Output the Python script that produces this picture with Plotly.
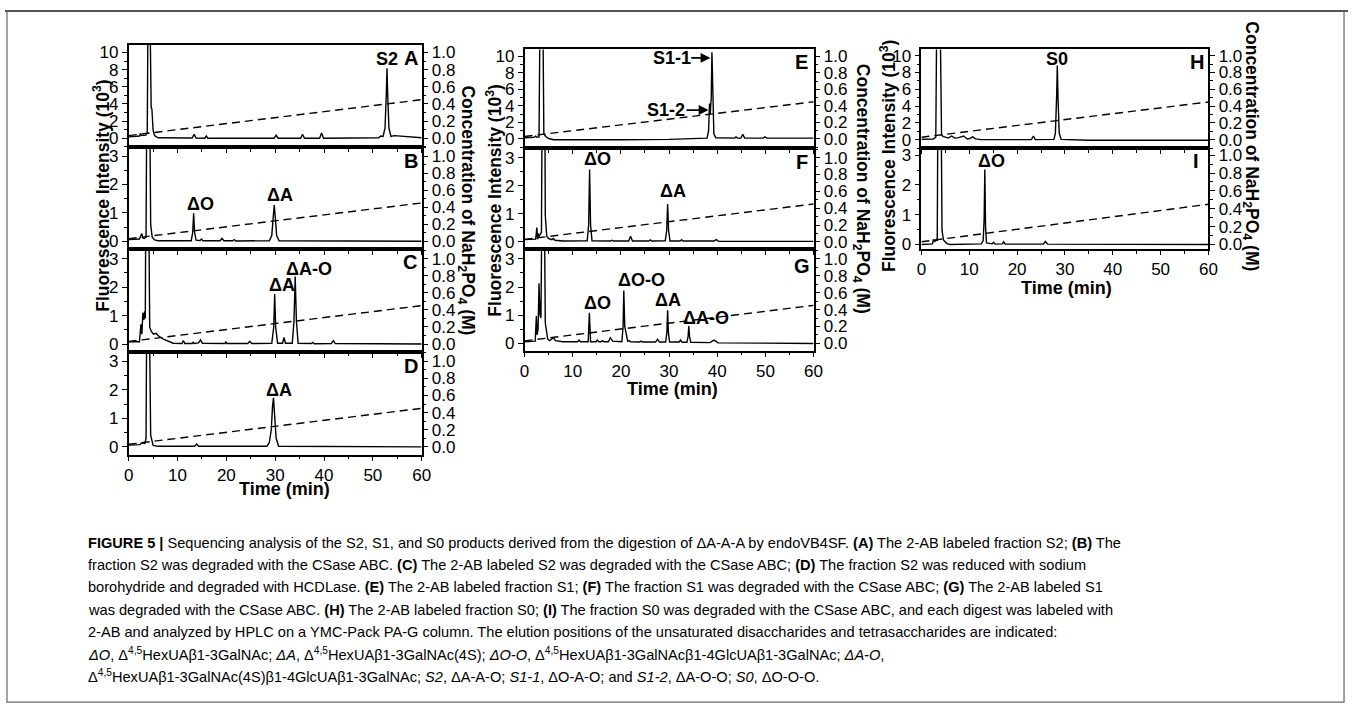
import plotly.graph_objects as go

# ------------------------------------------------------------------ data
x_ticks = [0, 10, 20, 30, 40, 50, 60]
grad_time = [0, 60]
grad_conc = [0.03, 0.45]

A_time = [0, 1.0, 2.2, 2.4, 2.6, 3.5, 3.8, 3.95, 4.35, 4.6, 4.75, 5.0, 5.3, 6.0, 13.0, 13.4, 13.8, 15.6, 15.9, 16.2,
          29.8, 30.2, 30.6, 35.2, 35.6, 36.0, 39.1, 39.5, 39.9, 51.2, 51.6, 52.1, 52.5, 52.75, 52.9, 53.05, 53.3,
          53.7, 54.4, 60]
A_signal = [0.15, 0.2, 0.25, 0.55, 0.3, 0.35, 0.6, 15, 15, 3.6, 3.4, 0.9, 0.3, 0.05, 0.02, 0.45, 0.02, 0.0, 0.25, 0.0,
            0.0, 0.35, 0.0, 0.0, 0.45, 0.0, 0.0, 0.6, 0.0, 0.05, 0.25, 0.2, 1.2, 5.0, 8.15, 5.0, 1.2,
            0.2, 0.3, 0.05]

B_time = [0, 2.2, 2.5, 2.7, 2.9, 3.2, 3.55, 3.7, 4.3, 4.5, 4.8, 5.3, 6, 12.8, 13.1, 13.3, 13.5, 13.8, 14.6, 14.9,
          15.2, 18.7, 19.1, 19.5, 21.3, 21.6, 21.9, 28.8, 29.3, 29.6, 29.8, 30.0, 30.3, 30.8, 60]
B_signal = [0.06, 0.08, 0.2, 0.27, 0.12, 0.1, 0.15, 5, 5, 0.6, 0.15, 0.05, 0.02, 0.02, 0.3, 0.99, 0.3, 0.04, 0.03, 0.08,
            0.02, 0.02, 0.1, 0.02, 0.02, 0.06, 0.01, 0.02, 0.2, 0.9, 1.28, 0.9, 0.2, 0.02, 0.0]

C_time = [0, 2.2, 2.5, 2.7, 2.9, 3.1, 3.25, 3.4, 3.5, 4.1, 4.3, 4.6, 5.1, 5.6, 6.0, 7.1, 9.1, 10.9, 11.2, 11.5, 13.0,
          13.2, 13.4, 14.3, 14.7, 15.1, 19.7, 19.9, 20.1, 24.4, 24.8, 25.2, 29.3, 29.7, 29.9, 30.1, 30.5, 31.5, 31.8,
          32.1, 33.5, 33.85, 34.1, 34.35, 34.7, 37.4, 37.7, 38.0, 41.5, 41.9, 42.3, 60]
C_signal = [0.08, 0.08, 0.69, 0.35, 1.1, 0.85, 1.15, 0.9, 5, 5, 0.6, 0.45, 0.35, 0.38, 0.3, 0.17, 0.03, 0.02, 0.12,
            0.02, 0.02, 0.06, 0.02, 0.04, 0.15, 0.03, 0.02, 0.07, 0.02, 0.02, 0.1, 0.02, 0.03, 0.6, 1.76, 0.6, 0.03,
            0.03, 0.23, 0.03, 0.03, 0.8, 2.37, 0.8, 0.03, 0.02, 0.06, 0.01, 0.02, 0.12, 0.02, 0.0]

D_time = [0, 2.3, 2.6, 3.0, 3.3, 3.55, 3.7, 4.2, 4.5, 5.0, 6.0, 13.5, 13.9, 14.3, 28.3, 28.8, 29.2, 29.45, 29.65,
          29.85, 30.2, 30.7, 60]
D_signal = [0.06, 0.08, 0.14, 0.14, 0.12, 0.3, 5, 5, 0.4, 0.05, 0.02, 0.02, 0.1, 0.02, 0.02, 0.15, 0.6, 1.4, 1.72,
            1.2, 0.3, 0.02, 0.0]

E_time = [0, 2.0, 2.3, 2.6, 3.0, 3.2, 3.8, 4.0, 4.4, 5.0, 6.0, 10, 20, 30, 36, 37.9, 38.2, 38.4, 38.55, 38.75, 38.9,
          39.05, 39.3, 39.7, 43.6, 43.9, 44.2, 44.9, 45.3, 45.7, 49.5, 49.9, 50.3, 60]
E_signal = [0.15, 0.2, 0.35, 0.2, 0.25, 15, 15, 0.6, 0.3, 0.05, -0.1, -0.12, -0.1, -0.05, 0.0, 0.1, 1.0, 4.3, 3.0,
            5.0, 10.5, 5.0, 0.6, 0.15, 0.1, 0.25, 0.1, 0.1, 0.55, 0.1, 0.1, 0.25, 0.1, 0.1]

F_time = [0, 2.3, 2.55, 2.7, 2.85, 3.0, 3.2, 3.5, 3.65, 4.2, 4.3, 4.6, 5.0, 5.7, 6.0, 6.3, 8, 13.0, 13.3, 13.5, 13.7,
          14.0, 17.9, 18.2, 18.5, 21.6, 22.0, 22.4, 25.8, 26.1, 26.4, 29.2, 29.5, 29.7, 29.9, 30.2, 32.3, 32.6, 32.9,
          39.3, 39.8, 40.3, 60]
F_signal = [0.08, 0.1, 0.51, 0.1, 0.3, 0.2, 0.25, 0.35, 5, 5, 0.94, 0.2, 0.12, 0.08, 0.12, 0.06, 0.03, 0.04, 0.6,
            2.58, 0.6, 0.04, 0.03, 0.06, 0.03, 0.03, 0.2, 0.03, 0.03, 0.07, 0.03, 0.04, 0.4, 1.35, 0.4, 0.03, 0.03,
            0.08, 0.03, 0.03, 0.08, 0.02, 0.02]

G_time = [0, 2.2, 2.45, 2.6, 2.8, 3.0, 3.2, 3.4, 3.6, 4.1, 4.3, 4.5, 4.8, 5.2, 5.7, 6.0, 6.4, 8, 11.0, 11.3, 11.6,
          13.2, 13.45, 13.7, 14.8, 15.1, 15.4, 15.9, 16.2, 16.5, 17.4, 17.8, 18.3, 20.2, 20.45, 20.6, 20.8, 21.4,
          21.7, 22.0, 23.9, 24.2, 24.5, 27.2, 27.6, 28.0, 29.3, 29.55, 29.7, 29.85, 30.1, 32.1, 32.4, 32.7, 33.7,
          33.95, 34.1, 34.25, 34.5, 38.5, 39.3, 40.2, 60]
G_signal = [0.06, 0.08, 0.97, 0.3, 0.5, 2.13, 1.0, 0.9, 5, 5, 0.73, 0.4, 0.15, 0.1, 0.15, 0.2, 0.1, 0.06, 0.06, 0.12,
            0.06, 0.06, 1.09, 0.06, 0.06, 0.12, 0.06, 0.06, 0.1, 0.06, 0.06, 0.2, 0.08, 0.06, 0.6, 1.88, 0.6, 0.08,
            0.1, 0.06, 0.05, 0.08, 0.05, 0.05, 0.15, 0.05, 0.05, 0.4, 1.18, 0.4, 0.05, 0.05, 0.12, 0.04, 0.04, 0.25,
            0.62, 0.25, 0.04, 0.03, 0.12, 0.02, 0.0]

H_time = [0, 2.5, 3.0, 3.2, 3.9, 4.2, 4.5, 5.0, 5.6, 6.3, 7.0, 7.8, 8.8, 9.6, 10.1, 10.7, 11.3, 12.5, 20, 23.0, 23.4,
          23.8, 27.7, 28.0, 28.25, 28.4, 28.55, 28.8, 29.2, 35, 60]
H_signal = [0.07, 0.1, 0.3, 15, 15, 0.6, 0.4, 0.3, 0.2, 0.45, 0.2, 0.25, 0.45, 0.1, 0.15, 0.35, 0.1, 0.02, 0.0, 0.02,
            0.45, 0.02, 0.05, 0.8, 5.0, 8.82, 5.0, 0.8, 0.05, -0.05, -0.05]

I_time = [0, 2.3, 2.5, 2.8, 3.1, 3.3, 3.45, 4.1, 4.3, 4.6, 5.3, 6, 12.5, 12.9, 13.1, 13.25, 13.4, 13.6, 14.8, 15.1,
          15.4, 16.9, 17.2, 17.5, 25.5, 25.9, 26.4, 60]
I_signal = [0.0, 0.02, 0.17, 0.1, 0.17, 0.12, 5, 5, 0.48, 0.15, 0.03, 0.0, 0.02, 0.12, 0.8, 2.52, 0.6, 0.05, 0.02,
            0.07, 0.01, 0.02, 0.09, 0.01, 0.01, 0.1, 0.01, 0.0]

peak_labels = {
    "A": [("S2", 52.9, 9.2)],
    "B": [("ΔO", 14.7, 1.31), ("ΔA", 31.0, 1.64)],
    "C": [("ΔA", 31.4, 2.08), ("ΔA-O", 37.0, 2.64)],
    "D": [("ΔA", 30.8, 1.98)],
    "E": [("S1-1", 30.7, 9.82), ("S1-2", 29.4, 3.5)],
    "F": [("ΔO", 15.1, 2.94), ("ΔA", 30.8, 1.81)],
    "G": [("ΔO", 15.1, 1.44), ("ΔO-O", 24.2, 2.26), ("ΔA", 29.7, 1.55), ("ΔA-O", 37.6, 0.91)],
    "H": [("S0", 28.3, 9.6)],
    "I": [("ΔO", 14.6, 2.82)],
}
# arrows in panel E: (tail time, head time, level)
E_arrows = [(34.3, 38.6, 9.82), (33.3, 38.2, 3.5)]

# ------------------------------------------------------------------ layout geometry (pixels)
W, H = 1357, 714
def fx(px):
    return px / W
def fy(py):
    return 1 - py / H

# name, time, signal, x0, x1, top, bottom, ylo, yhi, scale, show x labels, letter pos
panels = [
    ("A", A_time, A_signal, 125, 421, 42, 146, -1.07, 10.93, 10, False, (57.8, 9.4)),
    ("B", B_time, B_signal, 125, 421, 146, 249, -0.28, 3.31, 3, False, (57.8, 2.83)),
    ("C", C_time, C_signal, 125, 421, 249, 353, -0.28, 3.33, 3, False, (57.6, 2.88)),
    ("D", D_time, D_signal, 125, 421, 353, 457, -0.28, 3.32, 3, True, (57.8, 2.82)),
    ("E", E_time, E_signal, 525, 817, 47, 147, -1.14, 10.84, 10, False, (57.5, 9.28)),
    ("F", F_time, F_signal, 525, 817, 147, 249, -0.26, 3.33, 3, False, (57.5, 2.84)),
    ("G", G_time, G_signal, 525, 817, 249, 352, -0.27, 3.34, 3, True, (57.6, 2.75)),
    ("H", H_time, H_signal, 926, 1216, 47, 147, -1.02, 10.74, 10, False, (57.6, 9.2)),
    ("I", I_time, I_signal, 926, 1216, 147, 249, -0.16, 3.23, 3, True, (57.3, 2.8)),
]

FONT = "Liberation Sans, Arial, sans-serif"
TICKFONT = dict(family=FONT, size=17, color="black")
AX_COL = "black"

fig = go.Figure()
layout = dict(
    width=W, height=H, margin=dict(l=0, r=0, t=0, b=0),
    paper_bgcolor="white", plot_bgcolor="white", showlegend=False,
    annotations=[], shapes=[],
)

n = len(panels)
for i, (name, tt, sig, x0, x1, top, bot, ylo, yhi, scale, showx, letter) in enumerate(panels, start=1):
    xa = "x" if i == 1 else f"x{i}"
    ya = "y" if i == 1 else f"y{i}"
    yr = f"y{n + i}"
    fig.add_trace(go.Scatter(x=tt, y=sig, mode="lines", xaxis=xa, yaxis=ya,
                             line=dict(color="black", width=1.4), hoverinfo="skip"))
    fig.add_trace(go.Scatter(x=grad_time, y=grad_conc, mode="lines", xaxis=xa, yaxis=yr,
                             line=dict(color="black", width=1.4, dash="8px,5px"), hoverinfo="skip"))
    xkey = "xaxis" if i == 1 else f"xaxis{i}"
    ykey = "yaxis" if i == 1 else f"yaxis{i}"
    layout[xkey] = dict(
        domain=[fx(x0), fx(x1)], anchor=ya, range=[0, 60], tickvals=x_ticks,
        showticklabels=showx, ticks="outside", ticklen=4, tickwidth=1.3, tickcolor=AX_COL,
        minor=dict(dtick=5, tick0=0, ticks="outside", ticklen=2.5, tickwidth=1.2, tickcolor=AX_COL, showgrid=False),
        showline=True, linecolor=AX_COL, linewidth=1.6, mirror=True, showgrid=False, zeroline=False,
        tickfont=TICKFONT, fixedrange=True,
    )
    big = scale == 10
    layout[ykey] = dict(
        domain=[fy(bot), fy(top)], anchor=xa, range=[ylo, yhi],
        tick0=0, dtick=2 if big else 1,
        ticks="outside", ticklen=5, tickwidth=1.3, tickcolor=AX_COL,
        minor=dict(dtick=1 if big else 0.5, tick0=0, ticks="outside", ticklen=3, tickwidth=1.2,
                   tickcolor=AX_COL, showgrid=False),
        showline=True, linecolor=AX_COL, linewidth=1.6, mirror=True, showgrid=False, zeroline=False,
        tickfont=TICKFONT, fixedrange=True,
    )
    layout[f"yaxis{n + i}"] = dict(
        overlaying=ya, anchor=xa, side="right", range=[ylo / scale, yhi / scale],
        tick0=0, dtick=0.2, tickformat=".1f",
        ticks="outside", ticklen=5, tickwidth=1.3, tickcolor=AX_COL,
        minor=dict(dtick=0.1, tick0=0, ticks="outside", ticklen=3, tickwidth=1.2, tickcolor=AX_COL,
                   showgrid=False),
        showline=True, linecolor=AX_COL, linewidth=1.6, showgrid=False, zeroline=False,
        tickfont=TICKFONT, fixedrange=True,
    )
    # panel letter
    layout["annotations"].append(dict(
        x=letter[0], y=letter[1], xref=xa, yref=ya, text=f"<b>{name}</b>", showarrow=False,
        font=dict(family=FONT, size=20, color="black"), xanchor="center", yanchor="middle"))
    for txt, lx, ly in peak_labels[name]:
        layout["annotations"].append(dict(
            x=lx, y=ly, xref=xa, yref=ya, text=f"<b>{txt}</b>", showarrow=False,
            font=dict(family=FONT, size=18, color="black"), xanchor="center", yanchor="middle"))
    if name == "E":
        for t0, t1, lev in E_arrows:
            layout["annotations"].append(dict(
                x=t1, y=lev, xref=xa, yref=ya, ax=t0, ay=lev, axref=xa, ayref=ya, text="",
                showarrow=True, arrowhead=2, arrowsize=1.1, arrowwidth=1.8, arrowcolor="black",
                standoff=0, startstandoff=0))

# axis titles (placed as paper annotations)
def paper_text(px, py, text, size=18, angle=0, bold=True, family=FONT, xanchor="center"):
    layout["annotations"].append(dict(
        x=fx(px), y=fy(py), xref="paper", yref="paper", text=(f"<b>{text}</b>" if bold else text),
        showarrow=False, textangle=angle, xanchor=xanchor, yanchor="middle",
        font=dict(family=family, size=size, color="black")))

left_title = "Fluorescence Intensity (10<sup>3</sup>)"
right_title = "Concentration of NaH<sub>2</sub>PO<sub>4</sub> (M)"
for px, py in [(97, 195), (494, 200), (892, 155)]:
    paper_text(px, py, left_title, size=17.5, angle=-90)
for px, py in [(466, 210), (865, 188), (1259, 145)]:
    paper_text(px, py, right_title, size=17.5, angle=90)
for px, py in [(282, 492), (674, 390), (1073, 288)]:
    paper_text(px, py, "Time (min)")

# caption
caption = [
    "<b>FIGURE 5 |</b> Sequencing analysis of the S2, S1, and S0 products derived from the digestion of ΔA-A-A by endoVB4SF. <b>(A)</b> The 2-AB labeled fraction S2; <b>(B)</b> The",
    "fraction S2 was degraded with the CSase ABC. <b>(C)</b> The 2-AB labeled S2 was degraded with the CSase ABC; <b>(D)</b> The fraction S2 was reduced with sodium",
    "borohydride and degraded with HCDLase. <b>(E)</b> The 2-AB labeled fraction S1; <b>(F)</b> The fraction S1 was degraded with the CSase ABC; <b>(G)</b> The 2-AB labeled S1",
    "was degraded with the CSase ABC. <b>(H)</b> The 2-AB labeled fraction S0; <b>(I)</b> The fraction S0 was degraded with the CSase ABC, and each digest was labeled with",
    "2-AB and analyzed by HPLC on a YMC-Pack PA-G column. The elution positions of the unsaturated disaccharides and tetrasaccharides are indicated:",
    "<i>ΔO</i>, Δ<sup>4,5</sup>HexUAβ1-3GalNAc; <i>ΔA</i>, Δ<sup>4,5</sup>HexUAβ1-3GalNAc(4S); <i>ΔO-O</i>, Δ<sup>4,5</sup>HexUAβ1-3GalNAcβ1-4GlcUAβ1-3GalNAc; <i>ΔA-O</i>,",
    "Δ<sup>4,5</sup>HexUAβ1-3GalNAc(4S)β1-4GlcUAβ1-3GalNAc; <i>S2</i>, ΔA-A-O; <i>S1-1</i>, ΔO-A-O; and <i>S1-2</i>, ΔA-O-O; <i>S0</i>, ΔO-O-O.",
]
for k, line in enumerate(caption):
    paper_text(82, 546 + 22.5 * k, line, size=14.6, bold=False, family=FONT, xanchor="left")

# frame around figure
layout["shapes"].append(dict(type="rect", xref="paper", yref="paper", x0=fx(2), x1=fx(1353), y0=fy(707), y1=fy(8),
                             line=dict(color="#666", width=1.2)))
layout["shapes"].append(dict(type="line", xref="paper", yref="paper", x0=0, x1=1, y0=fy(8), y1=fy(8),
                             line=dict(color="#555", width=2)))

fig.update_layout(**layout)
fig.write_html("out.html")
